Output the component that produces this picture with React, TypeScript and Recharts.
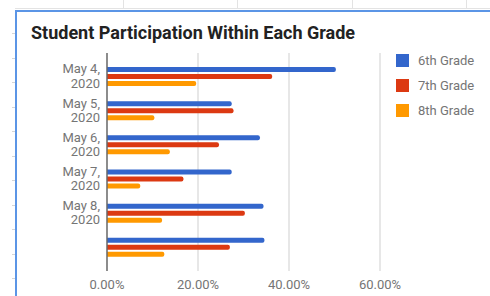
import { BarChart, Bar, XAxis, YAxis, CartesianGrid, Legend } from 'recharts';

const categories = ['May 4, 2020', 'May 5, 2020', 'May 6, 2020', 'May 7, 2020', 'May 8, 2020', ''];
const grade6 = [0.503, 0.274, 0.336, 0.274, 0.344, 0.346];
const grade7 = [0.363, 0.278, 0.246, 0.168, 0.303, 0.27];
const grade8 = [0.196, 0.104, 0.138, 0.073, 0.121, 0.126];
const xTicks = [0, 0.2, 0.4, 0.6];

const data = categories.map((name, i) => ({
  name,
  g6: grade6[i],
  g7: grade7[i],
  g8: grade8[i],
}));

const FONT = 'Roboto, Arial, sans-serif';
const GRAY = '#757575';

const CategoryTick = (props: any) => {
  const { x, y, payload } = props;
  const value: string = payload.value || '';
  if (!value) return null;
  const idx = value.indexOf(', ');
  const line1 = idx >= 0 ? value.slice(0, idx + 1) : value;
  const line2 = idx >= 0 ? value.slice(idx + 2) : '';
  return (
    <text x={x} y={y} textAnchor="end" fill={GRAY} fontSize={13} fontFamily={FONT}>
      <tspan x={x} y={y - 2.7}>{line1}</tspan>
      <tspan x={x} y={y + 11.7}>{line2}</tspan>
    </text>
  );
};

const LegendBox = (props: any) => {
  const { payload } = props;
  return (
    <div>
      {(payload || []).map((entry: any) => (
        <div
          key={entry.value}
          style={{ display: 'flex', alignItems: 'center', height: 25, fontFamily: FONT, fontSize: 13, color: GRAY }}
        >
          <span style={{ width: 13, height: 13, background: entry.color, display: 'inline-block', marginRight: 9 }} />
          <span>{entry.value}</span>
        </div>
      ))}
    </div>
  );
};

const rowMarks = Array.from({ length: 11 }, (_, i) => 33 + i * 24.5);
const colMarks = [123, 237, 352, 466];

export default function App() {
  return (
    <div style={{ position: 'absolute', left: 0, top: 0, width: 490, height: 296, overflow: 'hidden', background: '#fff' }}>
      {/* spreadsheet grid behind the chart frame */}
      <div style={{ position: 'absolute', left: 15, top: 8, width: 475, height: 1, background: '#e3e3e3' }} />
      {colMarks.map((x) => (
        <div key={x} style={{ position: 'absolute', left: x, top: 0, width: 1, height: 9, background: '#e3e3e3' }} />
      ))}
      {rowMarks.map((y) => (
        <div key={y} style={{ position: 'absolute', left: 12, top: y, width: 3, height: 1, background: '#d6d6d6' }} />
      ))}
      <div
        style={{
          position: 'absolute',
          left: 15,
          top: 10,
          width: 500,
          height: 300,
          borderTop: '2px solid #5b95e6',
          borderLeft: '2px solid #5b95e6',
          background: '#fff',
        }}
      />
      <div
        style={{
          position: 'absolute',
          left: 31,
          top: 23.5,
          fontFamily: FONT,
          fontWeight: 700,
          fontSize: 18,
          lineHeight: '18px',
          color: '#222',
          whiteSpace: 'nowrap',
        }}
      >
        Student Participation Within Each Grade
      </div>
      <div style={{ position: 'absolute', left: 0, top: 0 }}>
        <BarChart
          width={490}
          height={296}
          data={data}
          layout="vertical"
          margin={{ top: 53, right: 20, left: 15, bottom: 0 }}
          barSize={5}
          barGap={2}
        >
          <CartesianGrid horizontal={false} stroke="#dadada" strokeWidth={1.3} />
          <XAxis
            type="number"
            domain={[0, 0.6]}
            ticks={xTicks}
            height={25}
            axisLine={false}
            tickLine={false}
            tickMargin={3}
            tickFormatter={(v: number) => `${(v * 100).toFixed(2)}%`}
            tick={{ fill: GRAY, fontSize: 13, fontFamily: FONT }}
          />
          <YAxis
            type="category"
            dataKey="name"
            width={92}
            padding={{ top: 6, bottom: 7 }}
            axisLine={{ stroke: '#666', strokeWidth: 1.4 }}
            tickLine={false}
            tickMargin={1}
            tick={<CategoryTick />}
            interval={0}
          />
          <Legend
            layout="vertical"
            align="right"
            verticalAlign="top"
            content={<LegendBox />}
            wrapperStyle={{ position: 'absolute', left: 396, top: 47.5, width: 90 }}
          />
          <Bar dataKey="g6" name="6th Grade" fill="#3366cc" isAnimationActive={false} radius={[0, 2, 2, 0]} />
          <Bar dataKey="g7" name="7th Grade" fill="#dc3912" isAnimationActive={false} radius={[0, 2, 2, 0]} />
          <Bar dataKey="g8" name="8th Grade" fill="#ff9900" isAnimationActive={false} radius={[0, 2, 2, 0]} />
        </BarChart>
      </div>
    </div>
  );
}
